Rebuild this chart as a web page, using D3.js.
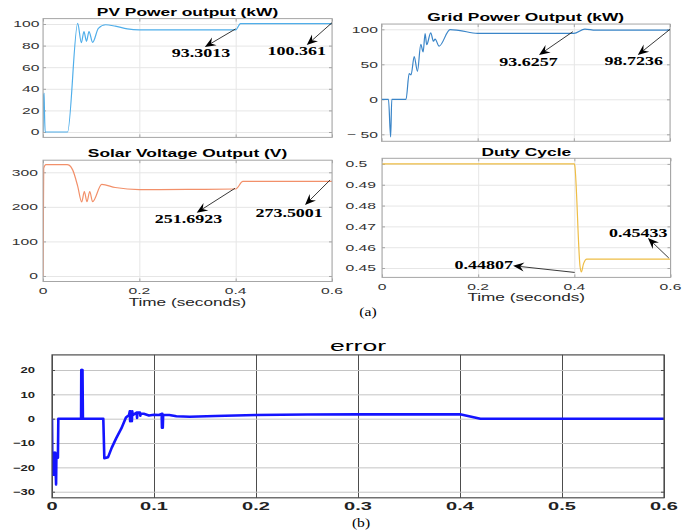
<!DOCTYPE html>
<html>
<head>
<meta charset="utf-8">
<script src="https://cdn.jsdelivr.net/npm/d3@7"></script>
<style>
body { margin: 0; background: #fff; }
svg { display: block; }
</style>
</head>
<body>
<svg id="fig" width="695" height="531"></svg>
<script>
"use strict";

// values (time in seconds)
var pvT = [0, 0.0008, 0.0015, 0.0022, 0.003, 0.0045, 0.051, 0.072, 0.0796, 0.085, 0.0903, 0.0955, 0.103, 0.115, 0.13, 0.15, 0.175, 0.2, 0.3, 0.4, 0.41, 0.5, 0.6];
var pvV = [0, 35, 30, 36, 20, 0, 0, 100.6, 82.7, 93, 84, 93, 83, 96, 99.3, 98, 95.5, 94.6, 94.5, 94.6, 100.4, 100.4, 100.4];

var gridT = [0, 0.0145, 0.019, 0.0214, 0.051, 0.0575, 0.0615, 0.068, 0.0748, 0.0817, 0.0866, 0.0907, 0.094, 0.1024, 0.108, 0.1115, 0.1198, 0.1426, 0.16, 0.2, 0.3, 0.4, 0.423, 0.445, 0.5, 0.6];
var gridV = [0, 0, -53.8, 0, 0, 36.7, 35, 61, 40, 78.6, 67.6, 94, 78, 95, 83, 86, 76, 99.5, 98.5, 94.3, 94.2, 94.3, 100.3, 98.8, 98.72, 98.72];

var solarT = [0, 0.0015, 0.006, 0.05, 0.055, 0.0616, 0.072, 0.0803, 0.0858, 0.0913, 0.097, 0.103, 0.122, 0.15, 0.2, 0.3, 0.4, 0.415, 0.5, 0.6];
var solarV = [0, 312, 322, 322, 320, 307, 260, 214, 244, 215, 244, 215, 265, 256, 250, 250.5, 251.7, 273.5, 273.5, 273.5];

var dutyT = [0, 0.4, 0.401, 0.412, 0.4146, 0.419, 0.426, 0.5, 0.6];
var dutyV = [0.5, 0.5, 0.499, 0.4505, 0.4481, 0.452, 0.4543, 0.4543, 0.4543];

var errT = [0, 0.0003, 0.0006, 0.0009, 0.0012, 0.0015, 0.0018, 0.0021, 0.0024, 0.0027, 0.003, 0.0033, 0.0036, 0.004, 0.0043, 0.0058, 0.0062,
    0.0285, 0.0287, 0.0291, 0.0293, 0.0297, 0.0299, 0.0303, 0.0503, 0.0513, 0.055, 0.0585, 0.063, 0.068, 0.0725, 0.0755,
    0.0762, 0.0766, 0.077, 0.0774, 0.0783, 0.0787, 0.0791, 0.083, 0.0834, 0.0838, 0.0862, 0.0866, 0.087, 0.09, 0.095, 0.1,
    0.105, 0.1075, 0.1078, 0.1082, 0.1086, 0.109, 0.115, 0.122, 0.135, 0.16, 0.2, 0.25, 0.3, 0.4, 0.42, 0.6];
var errV = [0, -14, -23, -14, -23, -14, -23, -14, -23, -14, -23, -14, -22, -27, -16, -16, 0,
    0, 20, 0, 20, 0, 20, 0, 0, -16.2, -15.8, -12, -8, -4, 0.5, 1.5,
    3, -1, 3, 1.5, -1, 3, 1.5, 2.5, 0.3, 2.5, 2.5, 1.2, 2, 2, 1.3, 1.6,
    1.5, 2, -3.7, 2, -3.7, 1.6, 1.5, 1, 0.8, 1.1, 1.5, 1.7, 1.75, 1.8, 0, 0];

var timeTicksA = [0, 0.2, 0.4, 0.6];
var timeLabelsA = ["0", "0.2", "0.4", "0.6"];
var timeTicksB = [0, 0.1, 0.2, 0.3, 0.4, 0.5, 0.6];
var timeLabelsB = ["0", "0.1", "0.2", "0.3", "0.4", "0.5", "0.6"];
var pvTicks = [0, 20, 40, 60, 80, 100];
var gridTicks = [-50, 0, 50, 100];
var gridLabels = ["\u2212 50", "0", "50", "100"];
var solarTicks = [0, 100, 200, 300];
var dutyTicks = [0.45, 0.46, 0.47, 0.48, 0.49, 0.5];
var dutyLabels = ["0.45", "0.46", "0.47", "0.48", "0.49", "0.5"];
var errTicks = [-30, -20, -10, 0, 10, 20];
var errLabels = ["\u221230", "\u221220", "\u221210", "0", "10", "20"];

// data tips: text, point on curve, arrow tip, label spot (data units)
var pvNotes = [
    {text: "93.3013", from: [0.4, 95.5], tip: [0.336, 78.7], at: [0.328, 69.2]},
    {text: "100.361", from: [0.6, 101.2], tip: [0.5476, 80.5], at: [0.527, 71.3]}
];
var gridNotes = [
    {text: "93.6257", from: [0.398, 96.6], tip: [0.3276, 63.3], at: [0.3058, 48]},
    {text: "98.7236", from: [0.6, 100], tip: [0.533, 63.3], at: [0.5246, 49]}
];
var solarNotes = [
    {text: "251.6923", from: [0.3986, 253.7], tip: [0.319, 183], at: [0.302, 152]},
    {text: "273.5001", from: [0.596, 277.7], tip: [0.544, 205.4], at: [0.511, 170]}
];
var dutyNotes = [
    {text: "0.44807", from: [0.4007, 0.44789], tip: [0.2726, 0.4511], at: [0.2114, 0.4497]},
    {text: "0.45433", from: [0.5965, 0.4548], tip: [0.553, 0.4644], at: [0.533, 0.4649]}
];

var svg = d3.select("#fig");
var sans = "'Liberation Sans', Arial, Helvetica, sans-serif";
var serif = "'Liberation Serif', 'Times New Roman', serif";

svg.append("rect").attr("width", 695).attr("height", 531).attr("fill", "#fff");

// the source picture is stretched sideways, so every text gets a scaleX
function stext (g, x, y, s, o) {
    return g.append("text")
        .attr("transform", "translate(" + x + "," + y + ") scale(" + (o.sx || 1) + ",1)")
        .attr("text-anchor", o.anchor || "middle")
        .attr("font-family", o.family || sans)
        .attr("font-size", o.size)
        .attr("font-weight", o.weight || "normal")
        .attr("fill", o.fill || "#000")
        .text(s);
}

function arrow (g, x1, y1, x2, y2) {
    var a = Math.atan2(y2 - y1, x2 - x1), L = 11, W = 4.5,
        ux = Math.cos(a), uy = Math.sin(a),
        bx = x2 - L * ux, by = x2 === x2 ? y2 - L * uy : 0,
        nx = x2 - 0.65 * L * ux, ny = y2 - 0.65 * L * uy;
    g.append("line")
        .attr("x1", x1).attr("y1", y1).attr("x2", nx).attr("y2", ny)
        .attr("stroke", "#222").attr("stroke-width", 0.9);
    g.append("path")
        .attr("d", "M" + x2 + "," + y2 +
            "L" + (bx - W * uy) + "," + (by + W * ux) +
            "L" + nx + "," + ny +
            "L" + (bx + W * uy) + "," + (by - W * ux) + "Z")
        .attr("fill", "#000");
}

var clipN = 0;

function panel (p) {
    var x = d3.scaleLinear().domain([0, 0.6]).range(p.xr),
        y = d3.scaleLinear().domain(p.yd).range(p.yr),
        g = svg.append("g"),
        w = p.xr[1] - p.xr[0], h = p.yr[0] - p.yr[1],
        cid = "clip" + (clipN += 1),
        line;

    g.append("g")
        .attr("transform", "translate(0," + p.yr[0] + ")")
        .call(d3.axisBottom(x).tickValues(p.xt).tickSize(-h).tickFormat(""))
        .call(function (a) {
            a.select(".domain").remove();
            a.selectAll("line").attr("stroke", p.vgrid).attr("stroke-width", p.vgridW);
        });
    g.append("g")
        .attr("transform", "translate(" + p.xr[0] + ",0)")
        .call(d3.axisLeft(y).tickValues(p.yt).tickSize(-w).tickFormat(""))
        .call(function (a) {
            a.select(".domain").remove();
            a.selectAll("line").attr("stroke", p.hgrid).attr("stroke-width", 1);
        });

    // inward tick marks on all four sides
    [[d3.axisBottom(x), "translate(0," + p.yr[0] + ")", p.xt],
     [d3.axisTop(x), "translate(0," + p.yr[1] + ")", p.xt],
     [d3.axisLeft(y), "translate(" + p.xr[0] + ",0)", p.yt],
     [d3.axisRight(y), "translate(" + p.xr[1] + ",0)", p.yt]].forEach(function (d) {
        g.append("g").attr("transform", d[1])
            .call(d[0].tickValues(d[2]).tickSize(-3).tickFormat(""))
            .call(function (a) {
                a.select(".domain").remove();
                a.selectAll("line").attr("stroke", p.box).attr("stroke-width", 1);
            });
    });

    g.append("clipPath").attr("id", cid)
        .append("rect").attr("x", p.xr[0]).attr("y", p.yr[1]).attr("width", w).attr("height", h);

    line = d3.line()
        .curve(p.curve)
        .x(function (d) { return x(d[0]); })
        .y(function (d) { return y(d[1]); });
    g.append("path")
        .datum(d3.zip(p.t, p.v))
        .attr("clip-path", "url(#" + cid + ")")
        .attr("fill", "none")
        .attr("stroke", p.color)
        .attr("stroke-width", p.lw)
        .attr("stroke-linejoin", "round")
        .attr("d", line);

    g.append("rect")
        .attr("x", p.xr[0]).attr("y", p.yr[1]).attr("width", w).attr("height", h)
        .attr("fill", "none").attr("stroke", p.box).attr("stroke-width", p.boxW);

    p.yt.forEach(function (v, i) {
        stext(g, p.yLabX, y(v) + p.yFont * 0.36, p.yLabels[i],
            {size: p.yFont, sx: p.ySx, anchor: p.yAnchor, weight: p.tickWeight, fill: p.tickFill});
    });
    if (p.xLabels) {
        p.xt.forEach(function (v, i) {
            stext(g, x(v), p.yr[0] + p.xLabDy, p.xLabels[i],
                {size: p.xFont, sx: p.xSx, weight: p.tickWeight, fill: p.tickFill});
        });
    }
    if (p.xTitle) {
        stext(g, (p.xr[0] + p.xr[1]) / 2, p.yr[0] + 24, p.xTitle, {size: 10, sx: 1.72, fill: "#262626"});
    }
    stext(g, (p.xr[0] + p.xr[1]) / 2, p.titleY, p.title,
        {size: p.titleSize, sx: p.titleSx, weight: p.titleWeight});

    (p.notes || []).forEach(function (n) {
        arrow(g, x(n.from[0]), y(n.from[1]), x(n.tip[0]), y(n.tip[1]));
        stext(g, x(n.at[0]), y(n.at[1]), n.text,
            {size: 12, sx: 1.5, weight: "bold", family: serif});
    });
}

var panelA = {vgrid: "#e6e6e6", vgridW: 1, hgrid: "#e6e6e6", box: "#a6a6a6", boxW: 1,
    lw: 1.2, curve: d3.curveMonotoneX, yFont: 9.5, ySx: 1.65, yAnchor: "end",
    tickFill: "#333", tickWeight: "normal", xFont: 9.5, xSx: 1.65, xLabDy: 12.5,
    titleSize: 11, titleSx: 1.58, titleWeight: "bold", xt: timeTicksA};

panel(Object.assign({}, panelA, {t: pvT, v: pvV, color: "#4faeea",
    xr: [43, 332], yd: [-5, 105], yr: [137.4, 18.6], yt: pvTicks, yLabels: pvTicks.map(String),
    yLabX: 39.5, title: "PV Power output (kW)", titleY: 16, notes: pvNotes}));

panel(Object.assign({}, panelA, {t: gridT, v: gridV, color: "#3a85c8",
    xr: [381.5, 670], yd: [-60, 107.5], yr: [141.3, 24.05], yt: gridTicks, yLabels: gridLabels,
    yLabX: 378, title: "Grid Power Output (kW)", titleY: 21, notes: gridNotes}));

panel(Object.assign({}, panelA, {t: solarT, v: solarV, color: "#f2906a",
    xr: [43, 332], yd: [-16, 335], yr: [281.5, 160.2], yt: solarTicks, yLabels: solarTicks.map(String),
    yLabX: 38, title: "Solar Voltage Output (V)", titleY: 156.7, notes: solarNotes,
    xLabels: timeLabelsA, xTitle: "Time (seconds)"}));

panel(Object.assign({}, panelA, {t: dutyT, v: dutyV, color: "#eebd45",
    xr: [382, 670.5], yd: [0.4455, 0.5027], yr: [277.4, 158.3], yt: dutyTicks, yLabels: dutyLabels,
    yLabX: 345.5, yAnchor: "start", title: "Duty Cycle", titleY: 155.7, notes: dutyNotes,
    xLabels: timeLabelsA, xTitle: "Time (seconds)"}));

panel({t: errT, v: errV, color: "#1414ff", lw: 2.6, curve: d3.curveLinear,
    vgrid: "#4d4d4d", vgridW: 1, hgrid: "#c4c4c4", box: "#4d4d4d", boxW: 1.2,
    xr: [52, 664], yd: [-32.5, 26.2], yr: [497.8, 354.9],
    xt: timeTicksB, xLabels: timeLabelsB, xFont: 10, xSx: 2, xLabDy: 12.5,
    yt: errTicks, yLabels: errLabels, yFont: 9, ySx: 1.45, yAnchor: "end", yLabX: 35,
    tickFill: "#222", tickWeight: "bold",
    title: "error", titleY: 351, titleSize: 14, titleSx: 1.9, titleWeight: "normal"});

stext(svg, 368, 316, "(a)", {size: 12, sx: 1.3, family: serif});
stext(svg, 361, 527, "(b)", {size: 12, sx: 1.3, family: serif});
</script>
</body>
</html>
